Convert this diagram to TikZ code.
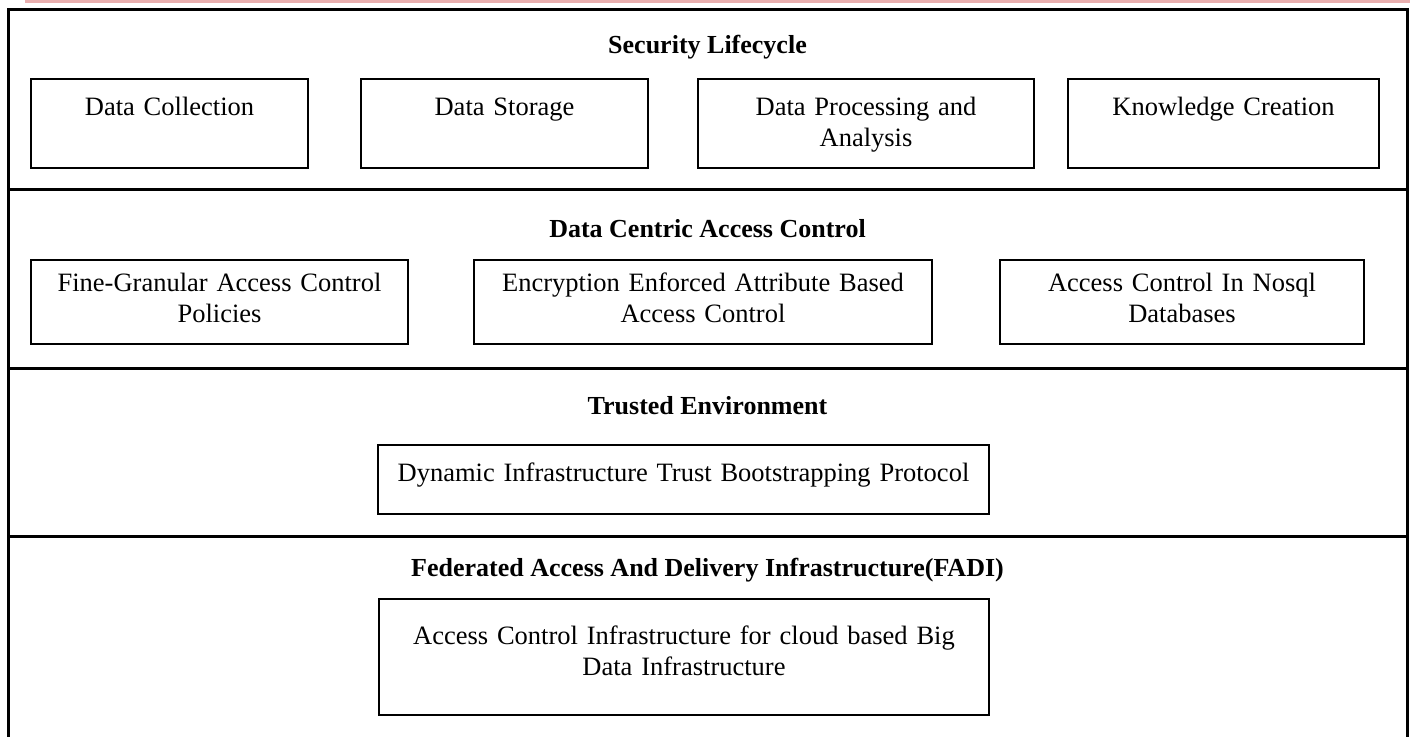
\documentclass[tikz,border=0pt]{standalone}
\usepackage{fontspec}
\setmainfont{Liberation Serif}
\definecolor{pinkline}{RGB}{233,175,175}
\begin{document}
\begin{tikzpicture}[x=1pt,y=-1pt,
  cell/.style={draw, line width=2pt, inner sep=0pt, anchor=north west, align=center,
    font=\fontsize{26.5}{31}\selectfont},
  ttl/.style={anchor=base, inner sep=0pt, font=\fontsize{26}{31}\selectfont\bfseries},
  frame/.style={line width=3pt}]
\clip (0,0) rectangle (1410,736);
\fill[pinkline] (25,0) rectangle (1410,2.5);
% outer frame and layer separators
\draw[frame] (8,760) -- (8,9) -- (1407,9) -- (1407,760);
\draw[frame] (8,189) -- (1407,189);
\draw[frame] (8,368) -- (1407,368);
\draw[frame] (8,536) -- (1407,536);
% layer 1
\node[ttl] (t1) at (707.5,53) {Security Lifecycle};
\node[cell, text width=277pt, text height=36pt, text depth=53pt] (dc) at (30,78) {Data Collection};
\node[cell, text width=287pt, text height=36pt, text depth=53pt] (ds) at (360,78) {Data Storage};
\node[cell, text width=336pt, text height=36pt, text depth=53pt] (dp) at (697,78) {Data Processing and\\Analysis};
\node[cell, text width=311pt, text height=36pt, text depth=53pt] (kc) at (1067,78) {Knowledge Creation};
% layer 2
\node[ttl] (t2) at (707.5,237) {Data Centric Access Control};
\node[cell, text width=377pt, text height=31pt, text depth=53pt] (fg) at (30,259) {Fine-Granular Access Control\\Policies};
\node[cell, text width=458pt, text height=31pt, text depth=53pt] (ee) at (473,259) {Encryption Enforced Attribute Based\\Access Control};
\node[cell, text width=364pt, text height=31pt, text depth=53pt] (nq) at (999,259) {Access Control In Nosql\\Databases};
% layer 3
\node[ttl] (t3) at (707.5,414) {Trusted Environment};
\node[cell, text width=611pt, text height=36pt, text depth=33pt] (dyn) at (377,444) {Dynamic Infrastructure Trust Bootstrapping Protocol};
% layer 4
\node[ttl] (t4) at (707.5,576) {Federated Access And Delivery Infrastructure(FADI)};
\node[cell, text width=610pt, text height=45pt, text depth=71pt] (acc) at (378,598) {Access Control Infrastructure for cloud based Big\\Data Infrastructure};
\end{tikzpicture}
\end{document}
